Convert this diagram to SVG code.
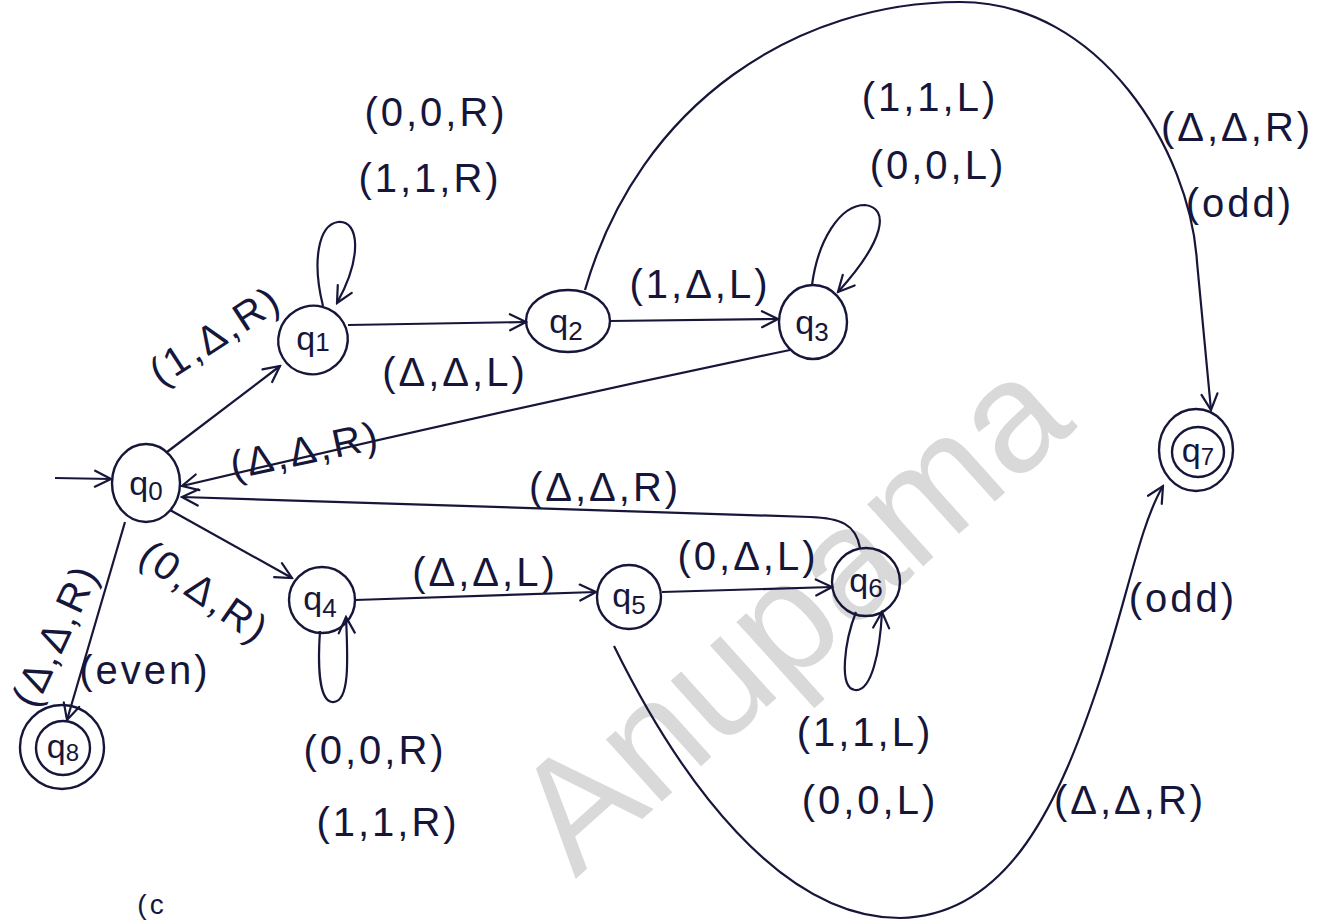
<svg xmlns="http://www.w3.org/2000/svg" width="1318" height="924" viewBox="0 0 1318 924">
<defs>
<marker id="arr" viewBox="0 0 20 20" refX="18" refY="10" markerWidth="20" markerHeight="20" markerUnits="userSpaceOnUse" orient="auto">
<path d="M2,2 L18,10 L2,18" fill="none" stroke="#16163a" stroke-width="2.2" stroke-linecap="round"/>
</marker>
<style>
.n{fill:none;stroke:#16163a;stroke-width:2.4}
.e{fill:none;stroke:#16163a;stroke-width:2.2;marker-end:url(#arr)}
.l{font-family:"Liberation Sans",Arial,sans-serif;font-size:40px;fill:#16163a;letter-spacing:3px;text-anchor:middle;dominant-baseline:central}
.q{font-family:"Liberation Sans",Arial,sans-serif;font-size:34px;fill:#16163a;text-anchor:middle;dominant-baseline:central}
.w{font-family:"Liberation Sans",Arial,sans-serif;font-size:158px;fill:#d9d9d9;text-anchor:middle;dominant-baseline:central}
</style>
</defs>
<rect width="1318" height="924" fill="#ffffff"/>
<text class="w" transform="translate(790,612) rotate(-42)">Anupama</text>

<g id="connectors">
<path class="e" d="M55,478 L111,479"/>
<path class="e" d="M167,452 L280,366"/>
<path class="e" d="M323,306 C312,262 318,225 338,222 C360,220 362,258 337,303"/>
<path class="e" d="M348,325 L526,322"/>
<path class="e" d="M610,321 L778,319"/>
<path class="e" d="M812,285 C818,240 840,205 865,205 C890,208 885,240 838,292"/>
<path class="e" d="M790,350 Q480,415 182,486"/>
<path class="e" d="M860,548 C856,524 840,518 810,517 L182,497"/>
<path class="e" d="M170,510 L292,578"/>
<path class="e" d="M320,631 C318,660 318,700 332,702 C350,704 348,660 346,617"/>
<path class="e" d="M355,600 L596,592"/>
<path class="e" d="M662,592 L832,587"/>
<path class="e" d="M856,612 C845,640 838,688 855,690 C872,692 880,650 882,612"/>
<path class="e" d="M125,522 L67,720"/>
<path class="e" d="M585,290 C640,100 800,2 960,2 C1100,2 1190,150 1197,262 L1211,410"/>
<path class="e" d="M614,646 C680,780 780,918 900,918 C1010,916 1060,800 1100,680 C1128,595 1140,525 1163,486"/>
</g>

<g id="q0"><ellipse class="n" cx="146" cy="483" rx="34" ry="39"/><text class="q" x="146" y="483">q<tspan font-size="26" dy="8">0</tspan></text></g>
<g id="q1"><ellipse class="n" cx="313" cy="340" rx="35" ry="34" transform="rotate(-30 313 340)"/><text class="q" x="313" y="338">q<tspan font-size="26" dy="4">1</tspan></text></g>
<g id="q2"><ellipse class="n" cx="568" cy="321" rx="42" ry="31"/><text class="q" x="566" y="321">q<tspan font-size="26" dy="10">2</tspan></text></g>
<g id="q3"><ellipse class="n" cx="813" cy="322" rx="34" ry="37"/><text class="q" x="812" y="322">q<tspan font-size="26" dy="10">3</tspan></text></g>
<g id="q4"><circle class="n" cx="322" cy="600" r="33"/><text class="q" x="320" y="598">q<tspan font-size="26" dy="10">4</tspan></text></g>
<g id="q5"><circle class="n" cx="629" cy="597" r="32"/><text class="q" x="629" y="595">q<tspan font-size="26" dy="10">5</tspan></text></g>
<g id="q6"><circle class="n" cx="866" cy="582" r="34"/><text class="q" x="866" y="580">q<tspan font-size="26" dy="8">6</tspan></text></g>
<g id="q7"><ellipse class="n" cx="1196" cy="450" rx="37" ry="41"/><ellipse class="n" cx="1198" cy="452" rx="26" ry="25"/><text class="q" x="1198" y="450" font-size="30">q<tspan font-size="24" dy="6">7</tspan></text></g>
<g id="q8"><circle class="n" cx="62" cy="747" r="42"/><circle class="n" cx="63" cy="748" r="27"/><text class="q" x="63" y="746" font-size="30">q<tspan font-size="24" dy="6">8</tspan></text></g>

<g id="labels">
<text class="l" x="436" y="112">(0,0,R)</text>
<text class="l" x="430" y="178">(1,1,R)</text>
<text class="l" transform="translate(215,335) rotate(-33)">(1,Δ,R)</text>
<text class="l" x="455" y="372">(Δ,Δ,L)</text>
<text class="l" x="700" y="284">(1,Δ,L)</text>
<text class="l" x="930" y="97">(1,1,L)</text>
<text class="l" x="938" y="165">(0,0,L)</text>
<text class="l" x="1237" y="127">(Δ,Δ,R)</text>
<text class="l" x="1240" y="203">(odd)</text>
<text class="l" transform="translate(305,450) rotate(-12)">(Δ,Δ,R)</text>
<text class="l" x="605" y="487">(Δ,Δ,R)</text>
<text class="l" transform="translate(205,592) rotate(35)">(0,Δ,R)</text>
<text class="l" x="485" y="572">(Δ,Δ,L)</text>
<text class="l" x="748" y="556">(0,Δ,L)</text>
<text class="l" transform="translate(55,635) rotate(-65)">(Δ,Δ,R)</text>
<text class="l" x="145" y="670">(even)</text>
<text class="l" x="375" y="750">(0,0,R)</text>
<text class="l" x="388" y="822">(1,1,R)</text>
<text class="l" x="865" y="732">(1,1,L)</text>
<text class="l" x="870" y="800">(0,0,L)</text>
<text class="l" x="1183" y="598">(odd)</text>
<text class="l" x="1130" y="800">(Δ,Δ,R)</text>
<text class="l" x="152" y="904" style="font-size:28px">(c</text>
</g>
</svg>
